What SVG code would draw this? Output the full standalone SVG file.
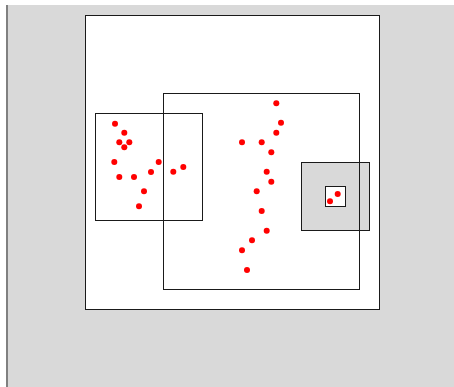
<svg xmlns="http://www.w3.org/2000/svg" width="454" height="387" viewBox="0 0 454 387">
<style>
.box{fill:none;stroke:#1a1a1a;stroke-width:1}
.dot{fill:#ff0000}
</style>
<rect x="0" y="0" width="454" height="387" fill="#ffffff"/>
<rect x="6" y="5" width="448" height="382" fill="#d9d9d9"/>
<rect x="6" y="5" width="2" height="382" fill="#808080"/>
<g id="canvas">
<rect x="85.5" y="15.5" width="294" height="294" fill="#ffffff" stroke="#1a1a1a"/>
</g>
<g id="zoomRegion">
<rect x="301.5" y="162.5" width="68" height="68" fill="#d9d9d9" stroke="#1a1a1a"/>
<rect x="325.5" y="186.5" width="20" height="20" fill="#ffffff" stroke="#1a1a1a"/>
</g>
<g id="leftBox"><rect class="box" x="95.5" y="113.5" width="107" height="107"/></g>
<g id="bigBox"><rect class="box" x="163.5" y="93.5" width="196" height="196"/></g>
<g id="points">
<circle class="dot" cx="115" cy="123.7" r="3"/>
<circle class="dot" cx="124.3" cy="132.7" r="3"/>
<circle class="dot" cx="119.3" cy="142.3" r="3"/>
<circle class="dot" cx="129.3" cy="142.3" r="3"/>
<circle class="dot" cx="124.3" cy="147.3" r="3"/>
<circle class="dot" cx="114.3" cy="162" r="3"/>
<circle class="dot" cx="158.7" cy="162" r="3"/>
<circle class="dot" cx="151" cy="172" r="3"/>
<circle class="dot" cx="173.3" cy="171.7" r="3"/>
<circle class="dot" cx="183.3" cy="167" r="3"/>
<circle class="dot" cx="119.3" cy="177" r="3"/>
<circle class="dot" cx="134" cy="177" r="3"/>
<circle class="dot" cx="144" cy="191.3" r="3"/>
<circle class="dot" cx="139" cy="206.3" r="3"/>
<circle class="dot" cx="276.3" cy="103.3" r="3"/>
<circle class="dot" cx="281" cy="122.7" r="3"/>
<circle class="dot" cx="276.3" cy="132.7" r="3"/>
<circle class="dot" cx="242" cy="142.3" r="3"/>
<circle class="dot" cx="261.7" cy="142.3" r="3"/>
<circle class="dot" cx="271.3" cy="152.3" r="3"/>
<circle class="dot" cx="266.7" cy="171.7" r="3"/>
<circle class="dot" cx="271.3" cy="181.7" r="3"/>
<circle class="dot" cx="256.7" cy="191.3" r="3"/>
<circle class="dot" cx="261.7" cy="211" r="3"/>
<circle class="dot" cx="266.7" cy="230.7" r="3"/>
<circle class="dot" cx="252" cy="240.3" r="3"/>
<circle class="dot" cx="242" cy="250.3" r="3"/>
<circle class="dot" cx="247" cy="270" r="3"/>
<circle class="dot" cx="337.7" cy="194" r="3"/>
<circle class="dot" cx="330" cy="201.3" r="3"/>
</g>
</svg>
